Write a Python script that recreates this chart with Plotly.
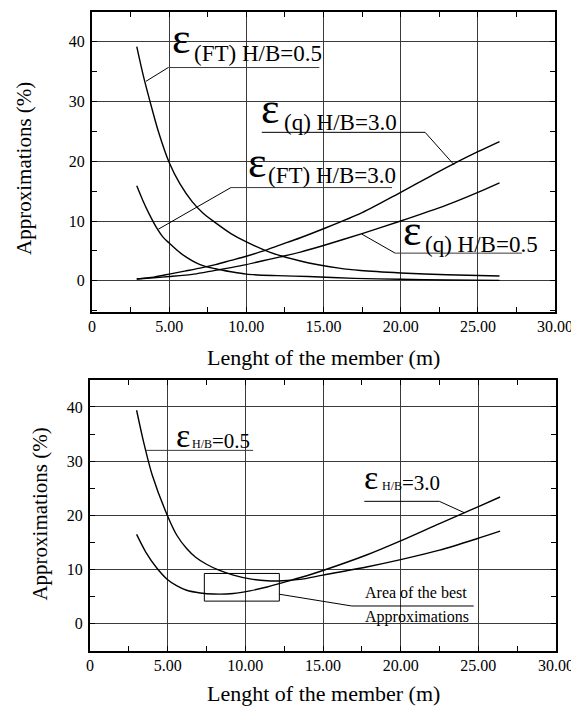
import plotly.graph_objects as go

# ---------------- data ----------------
# Top chart
ft05_x = [2.9, 3.3, 3.76, 4.3, 5.0, 5.7, 6.5, 7.2, 7.9, 9.0, 10.0, 11.5, 13.5, 16.0, 17.4, 20.0, 23.0, 26.4]
ft05_y = [39.2, 34.6, 30.0, 25.0, 19.8, 16.2, 13.2, 11.3, 9.9, 7.9, 6.5, 4.8, 3.3, 2.1, 1.7, 1.3, 1.0, 0.8]

ft30_x = [2.9, 3.3, 3.7, 4.2, 4.6, 5.0, 5.8, 7.0, 8.0, 9.0, 10.0, 12.0, 14.0, 17.0, 20.0, 23.0, 26.4]
ft30_y = [15.9, 13.4, 11.2, 8.8, 7.3, 6.3, 4.5, 2.7, 2.0, 1.5, 1.1, 0.85, 0.7, 0.4, 0.25, 0.12, 0.05]

q30_x = [2.9, 4.0, 5.0, 6.0, 7.0, 8.0, 9.0, 10.0, 11.0, 12.2, 13.5, 15.0, 17.5, 20.0, 22.0, 23.6, 25.0, 26.4]
q30_y = [0.3, 0.6, 1.1, 1.6, 2.1, 2.7, 3.4, 4.1, 4.9, 6.0, 7.2, 8.7, 11.4, 14.8, 17.6, 19.8, 21.6, 23.3]

q05_x = [2.9, 4.0, 5.0, 6.6, 7.9, 9.0, 10.0, 11.0, 12.2, 13.5, 15.0, 17.5, 20.0, 23.0, 25.0, 26.4]
q05_y = [0.3, 0.5, 0.7, 1.1, 1.7, 2.2, 2.7, 3.3, 4.0, 4.8, 5.9, 7.9, 10.0, 12.7, 14.8, 16.4]

# Bottom chart
hb05_x = [3.0, 3.43, 4.0, 4.98, 5.6, 6.22, 6.8, 7.5, 8.3, 9.23, 10.3, 11.4, 12.4, 13.5, 15.0, 17.8, 20.07, 22.5, 24.9, 26.4]
hb05_y = [39.4, 33.8, 27.5, 20.0, 16.3, 13.9, 12.3, 11.0, 9.9, 9.0, 8.3, 7.95, 7.95, 8.2, 9.0, 10.5, 11.9, 13.6, 15.7, 17.1]

hb30_x = [3.0, 3.6, 4.3, 4.98, 5.6, 6.22, 7.1, 7.95, 9.23, 10.3, 11.4, 12.9, 13.5, 15.0, 17.8, 20.07, 22.5, 24.9, 26.4]
hb30_y = [16.5, 13.2, 10.3, 8.2, 7.0, 6.2, 5.7, 5.5, 5.6, 6.1, 6.8, 8.0, 8.5, 9.85, 12.7, 15.4, 18.5, 21.5, 23.4]

x_tickvals = [0, 5, 10, 15, 20, 25, 30]
x_ticktext = ["0", "5.00", "10.00", "15.00", "20.00", "25.00", "30.00"]
x_minor = [2.5, 7.5, 12.5, 17.5, 22.5, 27.5]

FONT = "Liberation Serif"
INK = "black"
GRID = "#3a3a3a"

fig = go.Figure()

line_style = dict(color=INK, width=1.4, shape="spline", smoothing=0.8)
for xs, ys in [(ft05_x, ft05_y), (ft30_x, ft30_y), (q30_x, q30_y), (q05_x, q05_y)]:
    fig.add_trace(go.Scatter(x=xs, y=ys, mode="lines", line=line_style,
                             xaxis="x", yaxis="y", showlegend=False, hoverinfo="skip"))
for xs, ys in [(hb05_x, hb05_y), (hb30_x, hb30_y)]:
    fig.add_trace(go.Scatter(x=xs, y=ys, mode="lines", line=line_style,
                             xaxis="x2", yaxis="y2", showlegend=False, hoverinfo="skip"))

def xax(domain, anchor):
    return dict(domain=domain, anchor=anchor, range=[0, 30],
                tickmode="array", tickvals=x_tickvals, ticktext=x_ticktext,
                ticks="inside", ticklen=5, tickwidth=1.2, tickcolor=INK,
                minor=dict(tickmode="array", tickvals=x_minor, ticks="inside",
                           ticklen=5, tickwidth=1.2, tickcolor=INK, showgrid=False),
                showgrid=True, gridcolor=GRID, gridwidth=1,
                showline=True, linecolor=INK, linewidth=2, mirror="ticks",
                zeroline=False, tickfont=dict(family=FONT, size=16, color=INK),
                ticklabelstandoff=-1)

def yax(domain, anchor, rng):
    return dict(domain=domain, anchor=anchor, range=rng,
                tickmode="linear", tick0=0, dtick=10,
                ticks="inside", ticklen=5, tickwidth=1.2, tickcolor=INK,
                minor=dict(dtick=5, tick0=0, ticks="inside", ticklen=5, tickwidth=1.2,
                           tickcolor=INK, showgrid=False),
                showgrid=True, gridcolor=GRID, gridwidth=1,
                showline=True, linecolor=INK, linewidth=2, mirror="ticks",
                zeroline=False, tickfont=dict(family=FONT, size=16, color=INK),
                ticklabelstandoff=2)

# page body has an 8px margin, so the figure is 8px smaller than the window
fig.update_layout(
    width=571, height=701,
    margin=dict(l=82, r=23, t=2, b=58),
    paper_bgcolor="white", plot_bgcolor="white",
    xaxis=xax([0.0043, 0.998], "y"),
    yaxis=yax([0.5304, 1.0], "x", [-5.25, 45]),
    xaxis2=xax([0.0, 1.0], "y2"),
    yaxis2=yax([0.0, 0.4243], "x2", [-5, 45]),
)

ann = []
def txt(x, y, s, size, xref="x", yref="y", xanchor="left", yanchor="middle", angle=0):
    ann.append(dict(x=x, y=y, xref=xref, yref=yref, text=s, showarrow=False,
                    xanchor=xanchor, yanchor=yanchor, textangle=angle,
                    font=dict(family=FONT, size=size, color=INK)))

shapes = []
def seg(x0, y0, x1, y1, xref="x", yref="y", color=INK):
    shapes.append(dict(type="line", x0=x0, y0=y0, x1=x1, y1=y1, xref=xref, yref=yref,
                       line=dict(color=color, width=1)))

# ---- top chart labels ----
txt(5.05, 40.6, "ε", 44)
txt(6.45, 38.1, "(FT) H/B=0.5", 23)
seg(3.5, 33.4, 4.94, 35.7)
seg(4.94, 35.7, 14.73, 35.7, color=GRID)

txt(10.85, 28.8, "ε", 44)
txt(12.3, 26.45, "(q) H/B=3.0", 23)
seg(11.0, 24.85, 21.58, 24.85)
seg(21.58, 24.85, 23.46, 19.4)

txt(9.95, 19.8, "ε", 44)
txt(11.28, 17.7, "(FT) H/B=3.0", 23)
seg(4.3, 8.63, 9.0, 15.6)
seg(9.0, 15.6, 19.44, 15.6, color=GRID)

txt(20.05, 8.4, "ε", 44)
txt(21.43, 6.05, "(q) H/B=0.5", 23)
seg(17.48, 7.8, 19.64, 4.62)
seg(19.64, 4.62, 27.85, 4.62, color=GRID)

# ---- bottom chart labels ----
txt(5.4, 34.8, "ε", 34, "x2", "y2")
txt(6.44, 33.8, "<span style='font-size:12px'>H/B</span>=0.5", 21, "x2", "y2")
seg(3.6, 32.0, 10.5, 32.0, "x2", "y2", color=GRID)

txt(17.5, 27.0, "ε", 34, "x2", "y2")
txt(18.7, 25.9, "<span style='font-size:12px'>H/B</span>=3.0", 21, "x2", "y2")
seg(17.66, 22.6, 22.49, 22.6, "x2", "y2")
seg(22.49, 22.6, 24.1, 20.5, "x2", "y2")

shapes.append(dict(type="rect", x0=7.36, x1=12.19, y0=4.2, y1=9.3, xref="x2", yref="y2",
                   line=dict(color=INK, width=1)))
seg(12.19, 5.47, 16.85, 3.3, "x2", "y2")
seg(16.85, 3.3, 24.7, 3.3, "x2", "y2")
txt(17.55, 5.8, "Area of the best", 16, "x2", "y2")
txt(17.55, 1.2, "Approximations", 16, "x2", "y2")

# ---- axis titles ----
txt(0.5, 0.4587, "Lenght of the member (m)", 22, "paper", "paper", "center", "middle")
txt(0.5, -0.0670, "Lenght of the member (m)", 22, "paper", "paper", "center", "middle")
txt(-0.143, 0.755, "Approximations (%)", 21, "paper", "paper", "center", "middle", -90)
txt(-0.107, 0.2137, "Approximations (%)", 21, "paper", "paper", "center", "middle", -90)

fig.update_layout(annotations=ann, shapes=shapes)
fig.write_html("out.html")
